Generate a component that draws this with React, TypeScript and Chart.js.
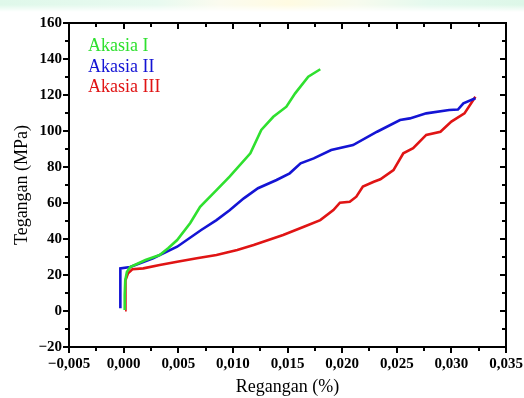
import React, { useEffect, useRef } from "react";
import { Chart, registerables } from "chart.js";

Chart.register(...registerables);

// ---- Data ----
const seriesLabels = ["Akasia I", "Akasia II", "Akasia III"];
const seriesColors = ["#2fe02f", "#1414d4", "#e01414"];

const akasia1Strain = [0.0001, 0.0001, 0.00015, 0.0003, 0.0006, 0.002, 0.0033, 0.0041, 0.0049, 0.0061, 0.007, 0.0085, 0.0097, 0.0116, 0.0126, 0.0137, 0.0149, 0.0157, 0.0169, 0.018];
const akasia1Stress = [0.5, 9, 17, 21.7, 24.4, 28.3, 31.1, 35, 39.4, 48.9, 57.9, 67.2, 74.6, 87.6, 100.6, 107.9, 113.5, 120.9, 130.2, 134.3];

const akasia2Strain = [-0.0003, -0.0003, -0.0003, 0.0006, 0.0027, 0.0049, 0.0071, 0.0085, 0.0097, 0.011, 0.0123, 0.014, 0.0152, 0.0162, 0.0174, 0.019, 0.021, 0.0232, 0.0253, 0.0262, 0.0277, 0.0298, 0.0306, 0.0311, 0.0322];
const akasia2Stress = [1.5, 12, 23.7, 24.4, 29.3, 35.7, 45, 50.5, 56, 62.6, 68.2, 72.8, 76.5, 82, 84.8, 89.4, 92.2, 99.6, 106.1, 107, 109.8, 111.7, 111.9, 115.4, 118.2];

const akasia3Strain = [0.00013, 0.00013, 0.0002, 0.0004, 0.0008, 0.0018, 0.0033, 0.0049, 0.0067, 0.0085, 0.0104, 0.0119, 0.0146, 0.0165, 0.018, 0.0192, 0.0198, 0.0207, 0.0213, 0.0219, 0.0229, 0.0235, 0.0247, 0.0256, 0.0265, 0.0277, 0.029, 0.03, 0.0312, 0.0322];
const akasia3Stress = [0.5, 10, 17, 21, 23.2, 23.7, 25.6, 27.4, 29.3, 31.1, 33.9, 36.7, 42.2, 46.8, 50.5, 56.1, 60.2, 60.7, 63.5, 69.1, 71.8, 73.2, 78.3, 87.6, 90.4, 97.8, 99.6, 105.2, 109.8, 119];

const xMin = -0.005;
const xMax = 0.035;
const xStep = 0.005;
const yMin = -20;
const yMax = 160;
const yStep = 20;

const xTitle = "Regangan (%)";
const yTitle = "Tegangan (MPa)";

const SERIF = '"Liberation Serif", "Times New Roman", serif';

const strains = [akasia1Strain, akasia2Strain, akasia3Strain];
const stresses = [akasia1Stress, akasia2Stress, akasia3Stress];

const fmtX = (v: number) => {
  const val = Math.abs(v) < 1e-9 ? 0 : v;
  const s = Math.abs(val).toFixed(3).replace(".", ",");
  return val < 0 ? "\u2212" + s : s;
};
const fmtY = (v: number) => {
  const val = Math.abs(v) < 1e-9 ? 0 : v;
  return val < 0 ? "\u2212" + Math.abs(val) : String(val);
};

const framePlugin = {
  id: "frameTicks",
  afterDraw(chart: any) {
    const { ctx, chartArea } = chart;
    const { left, right, top, bottom } = chartArea;
    const xs = chart.scales.x;
    const ys = chart.scales.y;
    ctx.save();
    ctx.strokeStyle = "#000";
    ctx.lineWidth = 2;
    ctx.lineCap = "butt";
    const major = 6;
    const minor = 4;
    const xTicks = xs.ticks.map((t: any) => t.value);
    const yTicks = ys.ticks.map((t: any) => t.value);
    const xMinor: number[] = [];
    for (let i = 0; i < xTicks.length - 1; i++) xMinor.push((xTicks[i] + xTicks[i + 1]) / 2);
    const yMinor: number[] = [];
    for (let i = 0; i < yTicks.length - 1; i++) yMinor.push((yTicks[i] + yTicks[i + 1]) / 2);
    ctx.beginPath();
    const xt = (vals: number[], len: number) => {
      vals.forEach((v) => {
        const p = Math.round(xs.getPixelForValue(v));
        ctx.moveTo(p, bottom);
        ctx.lineTo(p, bottom + len);
        ctx.moveTo(p, top);
        ctx.lineTo(p, top + len);
      });
    };
    const yt = (vals: number[], len: number) => {
      vals.forEach((v) => {
        const p = Math.round(ys.getPixelForValue(v));
        ctx.moveTo(left, p);
        ctx.lineTo(left - len, p);
        ctx.moveTo(right, p);
        ctx.lineTo(right - len, p);
      });
    };
    xt(xTicks, major);
    xt(xMinor, minor);
    yt(yTicks, major);
    yt(yMinor, minor);
    ctx.stroke();
    ctx.strokeRect(left, top, right - left, bottom - top);
    ctx.restore();
  },
};

const textLegendPlugin = {
  id: "textLegend",
  afterDraw(chart: any) {
    const { ctx, chartArea } = chart;
    ctx.save();
    ctx.font = `18px ${SERIF}`;
    ctx.textAlign = "left";
    ctx.textBaseline = "alphabetic";
    chart.data.datasets.forEach((ds: any, i: number) => {
      ctx.fillStyle = ds.borderColor;
      ctx.fillText(ds.label, chartArea.left + 19, chartArea.top + 28 + i * 20.7);
    });
    ctx.restore();
  },
};

export default function App() {
  const canvasRef = useRef<HTMLCanvasElement | null>(null);

  useEffect(() => {
    if (!canvasRef.current) return;
    const datasets = seriesLabels.map((label, i) => ({
      label,
      data: strains[i].map((x, j) => ({ x, y: stresses[i][j] })),
      borderColor: seriesColors[i],
      backgroundColor: seriesColors[i],
      borderWidth: 2.6,
      pointRadius: 0,
      tension: 0,
      fill: false,
    }));
    const chart = new Chart(canvasRef.current, {
      type: "line",
      data: { datasets },
      options: {
        animation: false,
        responsive: false,
        maintainAspectRatio: false,
        layout: { padding: { top: 23, right: 18, left: 0, bottom: 0 } },
        plugins: {
          legend: { display: false },
          tooltip: { enabled: false },
        },
        scales: {
          x: {
            type: "linear",
            min: xMin,
            max: xMax,
            grid: { display: false, drawTicks: false },
            border: { display: false },
            ticks: {
              stepSize: xStep,
              padding: 8,
              color: "#000",
              font: { family: SERIF, size: 15, weight: "bold" },
              maxRotation: 0,
              autoSkip: false,
              callback: (v: any) => fmtX(Number(v)),
            },
            title: {
              display: true,
              text: xTitle,
              color: "#000",
              font: { family: SERIF, size: 18 },
              padding: { top: 0, bottom: 0 },
            },
            afterFit: (scale: any) => {
              scale.height = 51;
              scale.paddingLeft = 0;
              scale.paddingRight = 0;
            },
          },
          y: {
            type: "linear",
            min: yMin,
            max: yMax,
            grid: { display: false, drawTicks: false },
            border: { display: false },
            ticks: {
              stepSize: yStep,
              padding: 7,
              color: "#000",
              font: { family: SERIF, size: 15, weight: "bold" },
              autoSkip: false,
              callback: (v: any) => fmtY(Number(v)),
            },
            title: {
              display: true,
              text: yTitle,
              color: "#000",
              font: { family: SERIF, size: 18 },
              padding: { top: 11, bottom: 0 },
            },
            afterFit: (scale: any) => {
              scale.width = 69;
              scale.paddingTop = 0;
              scale.paddingBottom = 0;
            },
          },
        },
      },
      plugins: [framePlugin, textLegendPlugin],
    } as any);
    return () => chart.destroy();
  }, []);

  return (
    <div style={{ position: "fixed", left: 0, top: 0, width: 524, height: 398, background: "#fff" }}>
      <div
        style={{
          position: "absolute",
          left: 0,
          top: 0,
          width: 524,
          height: 12,
          background:
            "linear-gradient(90deg, #dff8ea 0%, #e8faf0 30%, #fbfbef 42%, #fffbe2 55%, #f7fbee 68%, #e4f9ee 82%, #ddf7e8 100%)",
          WebkitMaskImage: "linear-gradient(180deg, rgba(0,0,0,1) 40%, rgba(0,0,0,0) 100%)",
        }}
      />
      <canvas ref={canvasRef} width={524} height={398} style={{ position: "absolute", left: 0, top: 0, width: 524, height: 398 }} />
    </div>
  );
}
